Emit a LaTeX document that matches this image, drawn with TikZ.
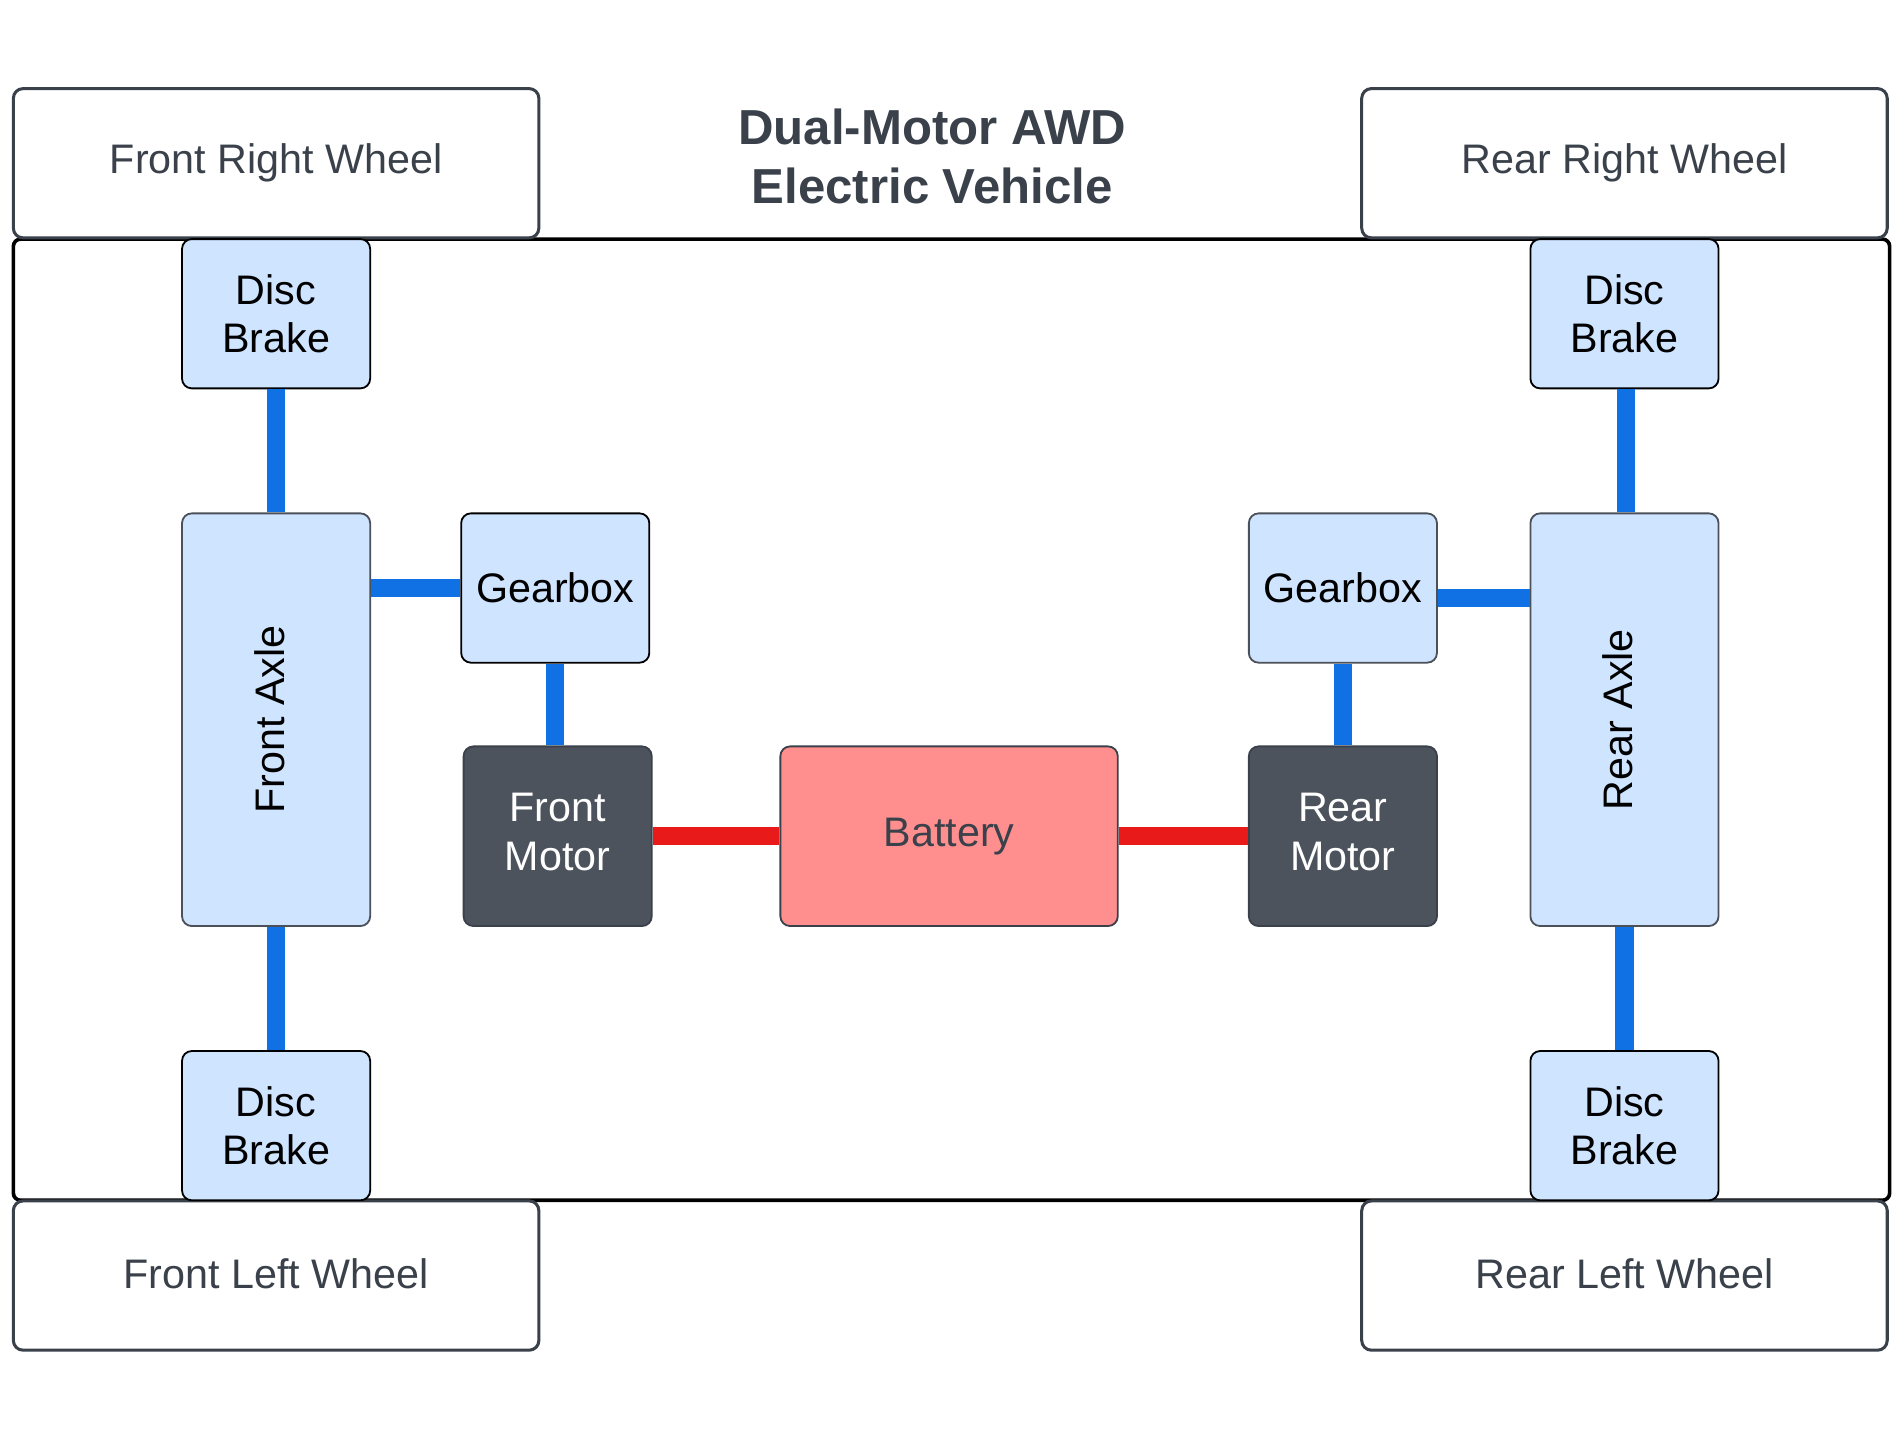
\documentclass[tikz,border=0pt]{standalone}
\usepackage{fontspec}
\setmainfont{Liberation Sans}
\definecolor{ink}{HTML}{3A414A}
\definecolor{partfill}{HTML}{CFE4FF}
\definecolor{partedge}{HTML}{4B5059}
\definecolor{motorfill}{HTML}{4C535D}
\definecolor{batfill}{HTML}{FF8F8F}
\definecolor{shaft}{HTML}{1071E5}
\definecolor{power}{HTML}{E81A1A}
\tikzset{
  base/.style={rounded corners=8, inner sep=0pt, align=center, font=\fontsize{34}{40}\selectfont},
  wheel/.style={base, draw=ink, line width=2.5pt, fill=white, text=ink, minimum width=433, minimum height=123},
  part/.style={base, fill=partfill, draw=black, line width=1.5pt, text=black, minimum width=155, minimum height=123},
  grayedge/.style={draw=partedge},
  axle/.style={part, grayedge, minimum height=340},
  motor/.style={base, fill=motorfill, draw=ink, line width=1.5pt, text=white, minimum width=155, minimum height=148},
  battery/.style={base, fill=batfill, draw=ink, line width=1.5pt, text=ink, minimum width=278, minimum height=148},
  frame/.style={draw=black, line width=3pt, rounded corners=6, minimum width=1546, minimum height=792, inner sep=0pt},
  axlelabel/.style={rotate=90, font=\fontsize{34}{40}\selectfont, text=black, inner sep=0pt},
  blueline/.style={draw=shaft, line width=15pt},
  redline/.style={draw=power, line width=15pt},
}
\begin{document}
\begin{tikzpicture}[x=1pt, y=-1pt]
\useasboundingbox (0,0) rectangle (1568,1181.5);
\fill[white] (0,0) rectangle (1568,1181.5);
% vehicle body frame
\node[frame] (body) at (784,593) {};
% wheels
\node[wheel] (frw) at (227.5,134.5) {Front Right Wheel};
\node[wheel] (rrw) at (1338.5,134.5) {Rear Right Wheel};
\node[wheel] (flw) at (227.5,1051) {\raisebox{4pt}{Front Left Wheel}};
\node[wheel] (rlw) at (1338.5,1051) {\raisebox{4pt}{Rear Left Wheel}};
% title
\node[font=\bfseries\fontsize{40.5}{48.6}\selectfont, text=ink, align=center] (title) at (768,129) {Dual-Motor AWD\\Electric Vehicle};
% disc brakes
\node[part] (dbtl) at (227.5,258.5) {Disc\\Brake};
\node[part] (dbbl) at (227.5,927.5) {Disc\\Brake};
\node[part] (dbtr) at (1338.5,258.5) {Disc\\Brake};
\node[part] (dbbr) at (1338.5,927.5) {Disc\\Brake};
% axles
\node[axle] (fax) at (227.5,593) {};
\node[axlelabel] (faxl) at (222,593) {Front Axle};
\node[axle] (rax) at (1338.5,593) {};
\node[axlelabel] (raxl) at (1333,593) {Rear Axle};
% gearboxes
\node[part] (gbl) at (457.5,484.5) {Gearbox};
\node[part, grayedge] (gbr) at (1106.5,484.5) {Gearbox};
% motors and battery
\node[motor] (fm) at (459.5,689) {\raisebox{4pt}{\begin{tabular}{@{}c@{}}Front\\Motor\end{tabular}}};
\node[motor] (rm) at (1106.5,689) {\raisebox{4pt}{\begin{tabular}{@{}c@{}}Rear\\Motor\end{tabular}}};
\node[battery] (bat) at (782,689) {\raisebox{2pt}{Battery}};
% shafts
\draw[blueline] (dbtl.south) -- (dbtl.south |- fax.north);
\draw[blueline] (fax.south) -- (fax.south |- dbbl.north);
\draw[blueline] (fax.east |- gbl.west) -- (gbl.west);
\draw[blueline] (gbl.south) -- (gbl.south |- fm.north);
\draw[blueline] ([xshift=1.5pt]dbtr.south) -- ([xshift=1.5pt]dbtr.south |- rax.north);
\draw[blueline] (rax.south) -- (rax.south |- dbbr.north);
\draw[blueline] ([yshift=-8.5pt]gbr.east) -- ([yshift=-8.5pt]gbr.east -| rax.west);
\draw[blueline] (gbr.south) -- (gbr.south |- rm.north);
% power lines
\draw[redline] (fm.east) -- (bat.west);
\draw[redline] (bat.east) -- (rm.west);
\end{tikzpicture}
\end{document}
